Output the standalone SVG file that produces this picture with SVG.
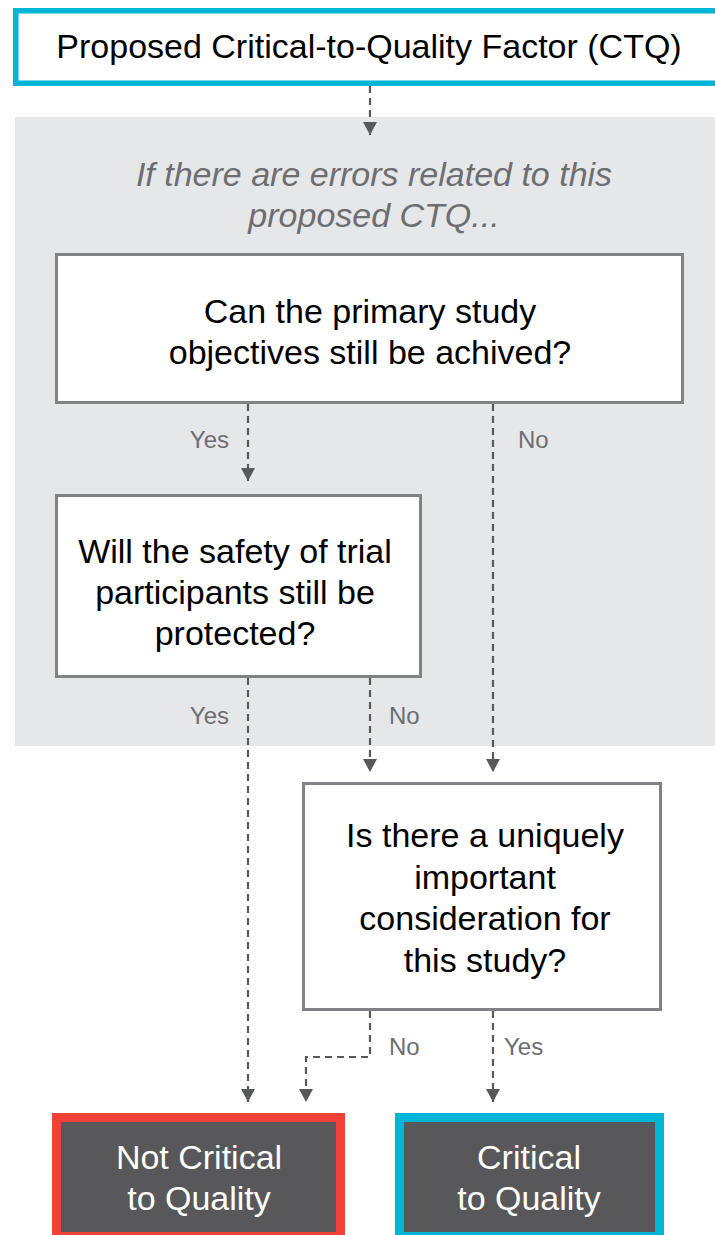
<svg xmlns="http://www.w3.org/2000/svg" width="715" height="1235" viewBox="0 0 715 1235">
  <style>
    text { font-family: "Liberation Sans", Arial, Helvetica, sans-serif; text-anchor: middle; }
    .q { font-size: 34px; fill: #000000; }
    .note { font-size: 34px; font-style: italic; fill: #6d6e71; }
    .lbl { font-size: 24px; fill: #6d6e71; }
    .lbl-r { text-anchor: end; }
    .lbl-l { text-anchor: start; }
    .res { font-size: 34px; fill: #ffffff; }
    .qbox { fill: #ffffff; stroke: #808285; stroke-width: 3; }
    .flow { fill: none; stroke: #58595b; stroke-width: 2.2; stroke-dasharray: 7 5; marker-end: url(#arrow); }
  </style>
  <defs>
    <marker id="arrow" markerUnits="userSpaceOnUse" markerWidth="14" markerHeight="15" viewBox="0 -7.5 14 15" refX="13" refY="0" orient="auto">
      <path d="M0,-7 L13,0 L0,7 Z" fill="#58595b" stroke="none"/>
    </marker>
  </defs>

  <!-- shaded region for the error questions -->
  <rect id="error-panel" x="15" y="117" width="700" height="629" fill="#e6e7e8"/>

  <g id="ctq">
    <rect x="15.75" y="10.75" width="710" height="72.5" fill="#ffffff" stroke="#00b5d6" stroke-width="5.5"/>
    <text class="q" x="369" y="58">Proposed Critical-to-Quality Factor (CTQ)</text>
  </g>

  <g id="errors-note">
    <text class="note" x="374" y="186">If there are errors related to this</text>
    <text class="note" x="374" y="227">proposed CTQ...</text>
  </g>

  <g id="objectives">
    <rect class="qbox" x="56.5" y="254.5" width="626" height="148"/>
    <text class="q" x="370" y="323">Can the primary study</text>
    <text class="q" x="370" y="364">objectives still be achived?</text>
  </g>

  <g id="safety">
    <rect class="qbox" x="56.5" y="495.5" width="364" height="181"/>
    <text class="q" x="235" y="563">Will the safety of trial</text>
    <text class="q" x="235" y="604">participants still be</text>
    <text class="q" x="235" y="645">protected?</text>
  </g>

  <g id="unique">
    <rect class="qbox" x="303.5" y="783.5" width="357" height="226"/>
    <text class="q" x="485" y="847">Is there a uniquely</text>
    <text class="q" x="485" y="889">important</text>
    <text class="q" x="485" y="930">consideration for</text>
    <text class="q" x="485" y="972">this study?</text>
  </g>

  <g id="not-critical">
    <rect x="56.5" y="1117.5" width="284" height="119" fill="#58585a" stroke="#ef4136" stroke-width="9"/>
    <text class="res" x="199" y="1169">Not Critical</text>
    <text class="res" x="199" y="1210">to Quality</text>
  </g>

  <g id="critical">
    <rect x="399.5" y="1117.5" width="260" height="119" fill="#58585a" stroke="#00b5d6" stroke-width="9"/>
    <text class="res" x="529" y="1169">Critical</text>
    <text class="res" x="529" y="1210">to Quality</text>
  </g>

  <g id="connectors">
    <path class="flow" d="M370,86 V135"/>
    <path class="flow" d="M248,404 V481"/>
    <path class="flow" d="M493,404 V772"/>
    <path class="flow" d="M370,678 V772"/>
    <path class="flow" d="M248,678 V1102"/>
    <path class="flow" d="M370,1011 V1057 H306 V1102"/>
    <path class="flow" d="M493,1011 V1102"/>
    <text class="lbl lbl-r" x="229" y="448">Yes</text>
    <text class="lbl lbl-l" x="518" y="448">No</text>
    <text class="lbl lbl-r" x="229" y="724">Yes</text>
    <text class="lbl lbl-l" x="389" y="724">No</text>
    <text class="lbl lbl-l" x="389" y="1055">No</text>
    <text class="lbl lbl-l" x="504" y="1055">Yes</text>
  </g>
</svg>
